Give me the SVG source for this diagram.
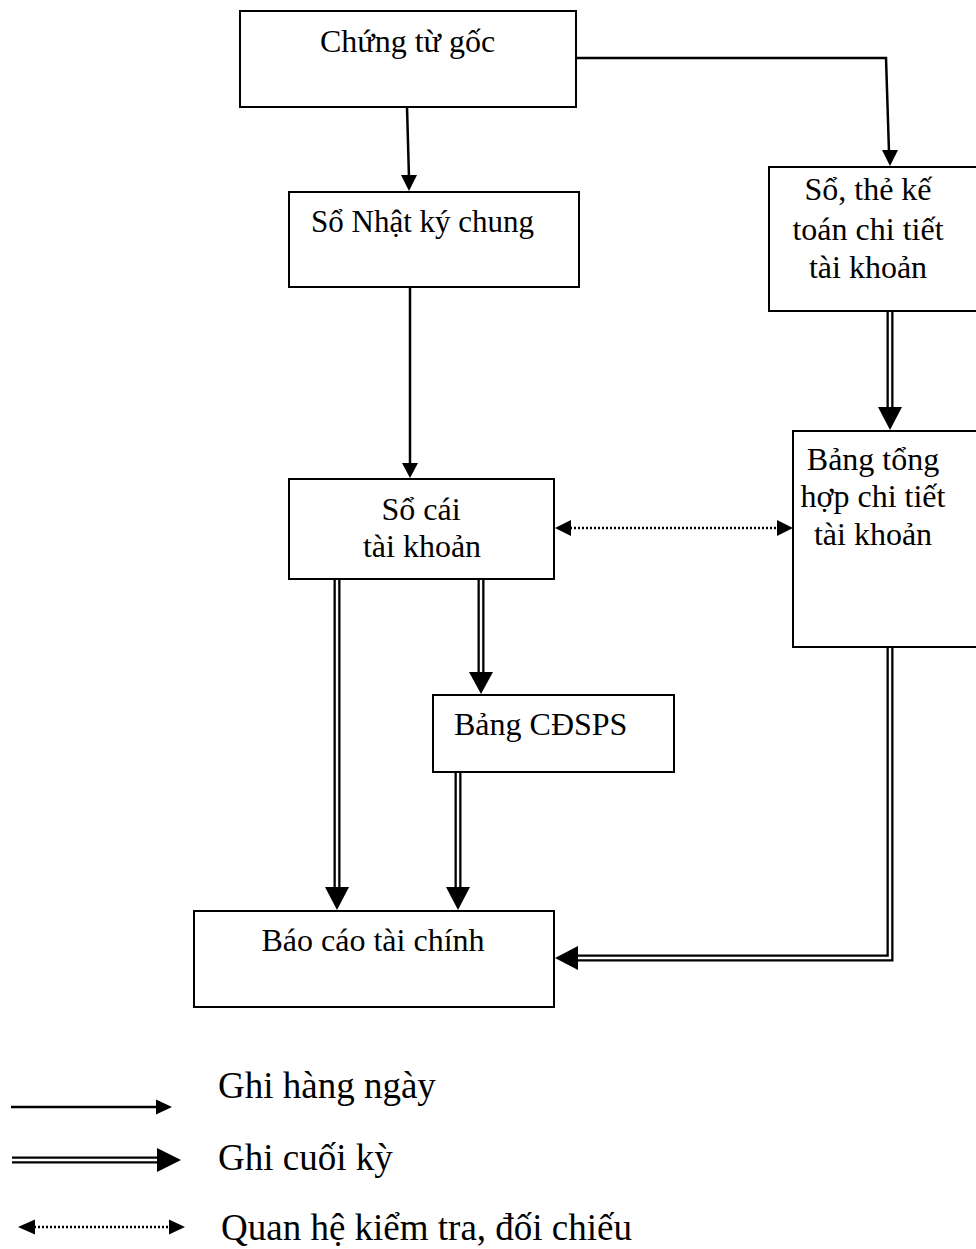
<svg xmlns="http://www.w3.org/2000/svg" width="976" height="1249" viewBox="0 0 976 1249">
  <style>
    .box { fill: #fff; stroke: #000; stroke-width: 2; }
    .lbl { font-family: "Liberation Serif", "Times New Roman", serif; font-size: 32px; fill: #000; }
    .leg { font-family: "Liberation Serif", "Times New Roman", serif; font-size: 37px; fill: #000; }
    .single { fill: none; stroke: #000; stroke-width: 2.5; }
    .dblOuter { fill: none; stroke: #000; stroke-width: 7; stroke-linejoin: miter; }
    .dblInner { fill: none; stroke: #fff; stroke-width: 2.4; stroke-linejoin: miter; }
    .dotted { fill: none; stroke: #000; stroke-width: 2.5; stroke-dasharray: 2 2; }
    .head { fill: #000; }
  </style>
  <rect width="976" height="1249" fill="#fff"/>

  <!-- connectors -->
  <g id="connectors">
    <!-- daily entries: source documents to journal and detail ledgers -->
    <path class="single" d="M407,107 L409,178"/>
    <polygon class="head" points="401,175 417,175 409,191"/>
    <path class="single" d="M576,58 L886,58 L889,152"/>
    <polygon class="head" points="882,150 898,150 890,166"/>
    <path class="single" d="M410,287 L410,465"/>
    <polygon class="head" points="402,463 418,463 410,478"/>

    <!-- period-end entries -->
    <path class="dblOuter" d="M890,312 L890,410"/>
    <path class="dblInner" d="M890,312 L890,410"/>
    <polygon class="head" points="878,407 902,407 890,430"/>

    <path class="dblOuter" d="M337,576 L337,890"/>
    <path class="dblInner" d="M337,576 L337,890"/>
    <polygon class="head" points="325,887 349,887 337,910"/>

    <path class="dblOuter" d="M481,576 L481,675"/>
    <path class="dblInner" d="M481,576 L481,675"/>
    <polygon class="head" points="469,672 493,672 481,694"/>

    <path class="dblOuter" d="M458,767 L458,890"/>
    <path class="dblInner" d="M458,767 L458,890"/>
    <polygon class="head" points="446,887 470,887 458,910"/>

    <path class="dblOuter" d="M890,647 L890,958 L575,958"/>
    <path class="dblInner" d="M890,647 L890,958 L575,958"/>
    <polygon class="head" points="578,946 578,970 555,958"/>

    <!-- cross-check between ledger and detail summary -->
    <path class="dotted" d="M570,528 L778,528"/>
    <polygon class="head" points="571,520 571,536 555,528"/>
    <polygon class="head" points="777,520 777,536 793,528"/>
  </g>

  <g id="chung-tu-goc">
    <rect class="box" x="240" y="11" width="336" height="96"/>
    <text class="lbl" x="320" y="52">Chứng từ gốc</text>
  </g>

  <g id="so-nhat-ky-chung">
    <rect class="box" x="289" y="192" width="290" height="95"/>
    <text class="lbl" x="311" y="232" style="font-size:31px">Sổ Nhật ký chung</text>
  </g>

  <g id="so-the-chi-tiet">
    <rect class="box" x="769" y="167" width="215" height="144"/>
    <text class="lbl" x="868" y="200" text-anchor="middle">Sổ, thẻ kế</text>
    <text class="lbl" x="868" y="240" text-anchor="middle">toán chi tiết</text>
    <text class="lbl" x="868" y="278" text-anchor="middle">tài khoản</text>
  </g>

  <g id="so-cai">
    <rect class="box" x="289" y="479" width="265" height="100"/>
    <text class="lbl" x="421" y="520" text-anchor="middle">Sổ cái</text>
    <text class="lbl" x="422" y="557" text-anchor="middle">tài khoản</text>
  </g>

  <g id="bang-tong-hop">
    <rect class="box" x="793" y="431" width="190" height="216"/>
    <text class="lbl" x="873" y="470" text-anchor="middle">Bảng tổng</text>
    <text class="lbl" x="873" y="507" text-anchor="middle">hợp chi tiết</text>
    <text class="lbl" x="873" y="545" text-anchor="middle">tài khoản</text>
  </g>

  <g id="bang-cdsps">
    <rect class="box" x="433" y="695" width="241" height="77"/>
    <text class="lbl" x="454" y="735">Bảng CĐSPS</text>
  </g>

  <g id="bao-cao-tai-chinh">
    <rect class="box" x="194" y="911" width="360" height="96"/>
    <text class="lbl" x="373" y="951" text-anchor="middle">Báo cáo tài chính</text>
  </g>

  <!-- legend -->
  <g id="legend">
    <path class="single" d="M11,1107 L158,1107"/>
    <polygon class="head" points="156,1099.5 156,1114.5 172,1107"/>
    <text class="leg" x="218" y="1098">Ghi hàng ngày</text>

    <path class="dblOuter" d="M12,1160 L160,1160"/>
    <path class="dblInner" d="M12,1160 L160,1160"/>
    <polygon class="head" points="157,1148 157,1172 181,1160"/>
    <text class="leg" x="218" y="1170">Ghi cuối kỳ</text>

    <path class="dotted" d="M34,1227 L171,1227"/>
    <polygon class="head" points="35,1219.5 35,1234.5 18,1227"/>
    <polygon class="head" points="169,1219.5 169,1234.5 185,1227"/>
    <text class="leg" x="221" y="1240">Quan hệ kiểm tra, đối chiếu</text>
  </g>
</svg>
